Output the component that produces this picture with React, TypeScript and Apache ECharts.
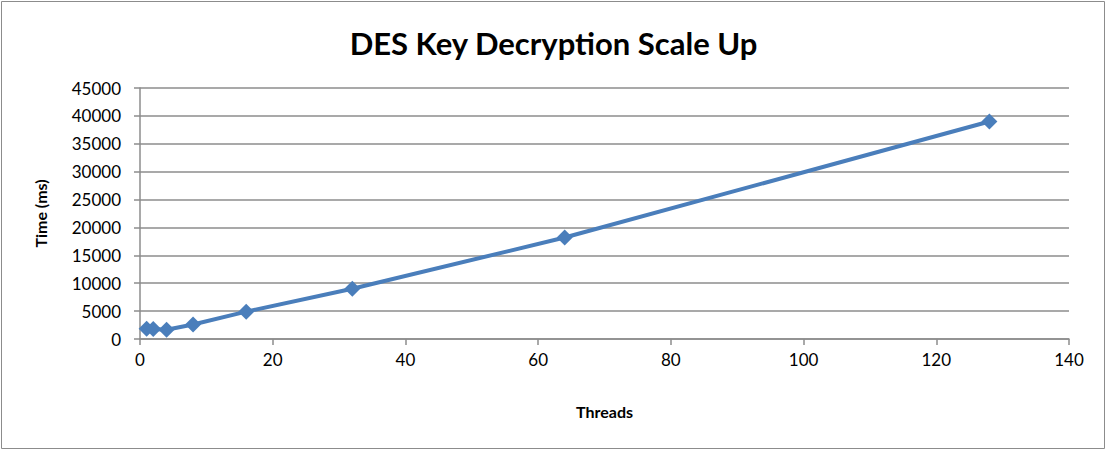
import React, { useEffect, useRef } from "react";
import * as echarts from "echarts";

const threads = [1, 2, 4, 8, 16, 32, 64, 128];
const timeMs = [1850, 1800, 1650, 2600, 4900, 9000, 18200, 39000];

export default function App() {
  const ref = useRef<HTMLDivElement>(null);
  useEffect(() => {
    const chart = echarts.init(ref.current!, null, { renderer: "svg" });
    const font = "Lato, 'Open Sans', sans-serif";
    chart.setOption({
      animation: false,
      textStyle: { fontFamily: font },
      title: {
        text: "DES Key Decryption Scale Up",
        left: "center",
        top: 22,
        textStyle: { fontSize: 31, fontWeight: "bold", color: "#000", fontFamily: font },
      },
      graphic: [
        {
          type: "rect",
          shape: { x: 1.5, y: 1.5, width: 1103, height: 447 },
          style: { fill: "none", stroke: "#8c8c8c", lineWidth: 1 },
        },
      ],
      grid: { left: 140, right: 38, top: 88, bottom: 112 },
      xAxis: {
        type: "value",
        min: 0,
        max: 140,
        interval: 20,
        name: "Threads",
        nameLocation: "middle",
        nameGap: 64,
        nameTextStyle: { fontSize: 16, fontWeight: "bold", color: "#000" },
        axisLine: { lineStyle: { color: "#8c8c8c", width: 1.5 } },
        axisTick: { show: true, length: 6, lineStyle: { color: "#8c8c8c", width: 1.5 } },
        axisLabel: { fontSize: 17, color: "#000", margin: 12 },
        splitLine: { show: false },
      },
      yAxis: {
        type: "value",
        min: 0,
        max: 45000,
        interval: 5000,
        name: "Time (ms)",
        nameLocation: "middle",
        nameGap: 92,
        nameRotate: 90,
        nameTextStyle: { fontSize: 16, fontWeight: "bold", color: "#000" },
        axisLine: { show: true, lineStyle: { color: "#8c8c8c", width: 1.5 } },
        axisTick: { show: true, length: 6, lineStyle: { color: "#8c8c8c", width: 1.5 } },
        axisLabel: { fontSize: 17, color: "#000", margin: 19, formatter: (v: number) => String(v) },
        splitLine: { show: true, lineStyle: { color: "#8c8c8c", width: 1.5 } },
      },
      series: [
        {
          type: "line",
          data: threads.map((t, i) => [t, timeMs[i]]),
          symbol: "diamond",
          symbolSize: 16,
          lineStyle: { color: "#4a7ebb", width: 4 },
          itemStyle: { color: "#4a7ebb" },
        },
      ],
    });
    return () => chart.dispose();
  }, []);
  return (
    <div
      ref={ref}
      style={{ position: "fixed", left: 0, top: 0, width: 1107, height: 451, background: "#fff" }}
    />
  );
}
